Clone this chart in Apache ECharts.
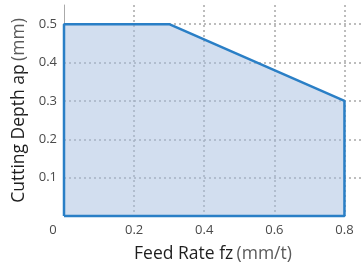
<!DOCTYPE html>
<html><head><meta charset="utf-8">
<script src="https://cdn.jsdelivr.net/npm/echarts@6/dist/echarts.min.js"></script>
<style>html,body{margin:0;padding:0;background:#fff}#c{width:362px;height:270px}</style>
</head><body><div id="c"></div>
<script>
const feedRate = [0, 0, 0.3, 0.8, 0.8, 0];
const cuttingDepth = [0, 0.5, 0.5, 0.3, 0, 0];
const xTicks = [0, 0.2, 0.4, 0.6, 0.8];
const yTicks = [0.1, 0.2, 0.3, 0.4, 0.5];

const chart = echarts.init(document.getElementById('c'));
const font = '"Open Sans", sans-serif';
const grid = {type: [2, 3], color: '#a8a8a8', width: 1.5};
const isTick = (v, list) => Math.abs(v * 10 - Math.round(v * 10)) < 1e-6 && list.includes(Math.round(v * 10) / 10);
chart.setOption({
  animation: false,
  grid: {left: 64, right: 0, top: 5, bottom: 54},
  xAxis: {
    type: 'value', min: 0, max: 0.85, interval: 0.2,
    name: '{a|Feed Rate fz} {b|(mm/t)}', nameLocation: 'middle', nameGap: 29,
    nameTextStyle: {rich: {a: {fontFamily: font, fontSize: 17.5, color: '#1e1e1e'}, b: {fontFamily: font, fontSize: 17.5, color: '#5a5a5a'}}},
    axisLine: {show: false}, axisTick: {show: false},
    axisLabel: {fontFamily: font, fontSize: 13, color: '#4a4a4a', margin: 8, showMaxLabel: false,
      formatter: v => isTick(v, xTicks) ? (v === 0 ? '{z|0}' : String(Math.round(v * 10) / 10)) : '',
      rich: {z: {fontFamily: font, fontSize: 13, color: '#4a4a4a', padding: [0, 22, 0, 0]}}},
    splitLine: {show: true, showMinLine: false, showMaxLine: false, lineStyle: grid}
  },
  yAxis: {
    type: 'value', min: 0, max: 0.55, interval: 0.1,
    name: '{a|Cutting Depth ap} {b|(mm)}', nameLocation: 'middle', nameGap: 30,
    nameTextStyle: {rich: {a: {fontFamily: font, fontSize: 17.5, color: '#1e1e1e'}, b: {fontFamily: font, fontSize: 17.5, color: '#5a5a5a'}}},
    axisLine: {show: true, lineStyle: {color: '#aaaaaa', width: 1}}, axisTick: {show: false},
    axisLabel: {fontFamily: font, fontSize: 13, color: '#4a4a4a', margin: 7, showMinLabel: false, showMaxLabel: false,
      formatter: v => isTick(v, yTicks) ? String(Math.round(v * 10) / 10) : ''},
    splitLine: {show: true, showMinLine: false, showMaxLine: false, lineStyle: grid}
  },
  series: [{
    type: 'line', clip: false, symbol: 'none',
    data: feedRate.map((x, i) => [x, cuttingDepth[i]]),
    lineStyle: {color: '#2a7fc6', width: 2.5},
    areaStyle: {color: '#a5bde0', opacity: 0.5}
  }]
});
</script></body></html>
